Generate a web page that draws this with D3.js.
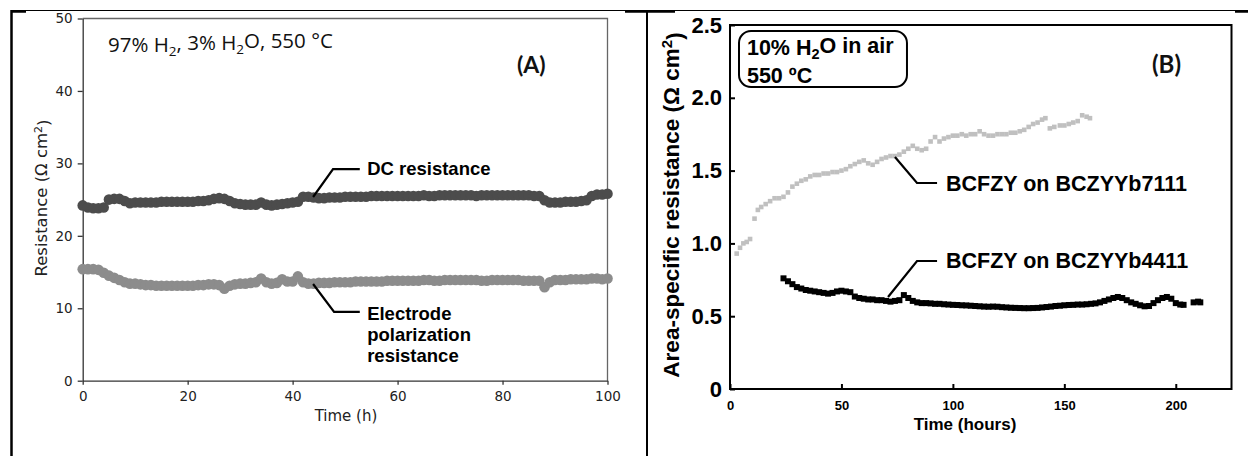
<!DOCTYPE html>
<html>
<head>
<meta charset="utf-8">
<script src="https://cdn.jsdelivr.net/npm/d3@7"></script>
<style>
  body { margin: 0; background: #fff; }
  svg { display: block; }
</style>
</head>
<body>
<svg id="chart" width="1248" height="456"></svg>
<script>
// ---- panel A data (hours, ohm cm2) ----
var hoursA = [0,1,2,3,4,5,6,7,8,9,10,11,12,13,14,15,16,17,18,19,20,21,22,23,24,25,26,27,28,29,
  30,31,32,33,34,35,36,37,38,39,40,41,42,43,44,45,46,47,48,49,50,51,52,53,54,55,56,57,58,59,
  60,61,62,63,64,65,66,67,68,69,70,71,72,73,74,75,76,77,78,79,80,81,82,83,84,85,86,87,88,89,
  90,91,92,93,94,95,96,97,98,99,100];
var dcResistance = [24.2,23.9,23.8,23.8,23.9,25.0,25.1,25.1,24.8,24.5,
  24.6,24.6,24.6,24.6,24.6,24.7,24.7,24.7,24.7,24.7,24.7,24.7,24.8,24.8,24.9,25.1,25.2,25.1,24.8,24.5,
  24.4,24.3,24.3,24.3,24.6,24.3,24.2,24.3,24.4,24.5,24.6,24.7,25.4,25.4,25.3,25.2,25.2,25.3,25.3,25.3,
  25.4,25.4,25.4,25.4,25.4,25.5,25.5,25.5,25.5,25.5,25.5,25.5,25.5,25.5,25.5,25.6,25.5,25.5,25.6,25.6,
  25.6,25.6,25.6,25.6,25.6,25.5,25.6,25.6,25.6,25.6,25.6,25.6,25.6,25.6,25.6,25.6,25.5,25.5,24.9,24.6,
  24.6,24.6,24.7,24.7,24.7,24.8,24.9,25.5,25.7,25.7,25.8];
var electrodeResistance = [15.4,15.4,15.4,15.3,14.9,14.5,14.2,13.9,13.6,13.4,
  13.4,13.3,13.2,13.2,13.1,13.1,13.1,13.1,13.1,13.1,13.1,13.1,13.2,13.2,13.3,13.3,13.2,12.7,13.1,13.3,
  13.4,13.4,13.5,13.6,14.1,13.6,13.4,13.5,14.0,13.7,13.7,14.4,13.6,13.4,13.4,13.5,13.5,13.5,13.6,13.6,
  13.6,13.6,13.7,13.7,13.7,13.7,13.7,13.7,13.8,13.8,13.8,13.8,13.8,13.8,13.8,13.9,13.9,13.8,13.8,13.9,
  13.9,13.9,13.9,13.9,13.9,13.9,13.8,13.8,13.9,13.9,13.9,13.9,13.9,13.9,13.8,13.8,13.8,13.8,12.9,13.6,
  13.9,13.9,13.9,14.0,14.0,14.0,14.0,14.1,14.1,14.0,14.1];
var ticksAx = [0, 20, 40, 60, 80, 100];
var ticksAy = [0, 10, 20, 30, 40, 50];

// ---- panel B data (hours, ohm cm2) ----
var hours7111 = [3,4.5,6,7.5,9,11,12.5,14,16,18,20,22,24,26,28,30,32,34,36,38,40,42,44,46,48,50,52,54,56,58,
  60,62,64,66,68,70,72,74,76,78,80,82,84,86,88,90,92,94,96,98,100,102,104,106,108,110,112,114,116,118,
  120,122,124,126,128,130,132,134,136,138,140,141.5,143.5,145.5,148,150,152,154,156,158,160,161.5];
var asr7111 = [0.93,0.97,1.0,1.01,1.03,1.17,1.23,1.25,1.27,1.29,1.31,1.31,1.32,1.35,1.39,1.41,1.43,1.44,1.46,1.47,
  1.47,1.48,1.48,1.49,1.49,1.50,1.51,1.53,1.545,1.56,1.57,1.55,1.54,1.56,1.58,1.59,1.60,1.60,1.61,1.63,
  1.65,1.67,1.65,1.64,1.65,1.70,1.73,1.70,1.72,1.73,1.74,1.74,1.75,1.74,1.75,1.75,1.77,1.75,1.74,1.74,
  1.75,1.75,1.75,1.76,1.76,1.77,1.78,1.80,1.82,1.83,1.85,1.86,1.79,1.80,1.81,1.81,1.82,1.83,1.84,1.88,1.87,1.86];
var hours4411 = [24,26,28,30,32,34,36,38,40,42,44,46,48,50,52,54,56,58,60,62,64,66,68,70,72,74,76,78,80,82,
  84,86,88,90,92,94,96,98,100,102,104,106,108,110,112,114,116,118,120,122,124,126,128,130,132,134,136,138,140,142,
  144,146,148,150,152,154,156,158,160,162,164,166,168,170,172,174,176,178,180,182,184,186,188,190,192,194,196,198,200,202,
  203.5,208,210,211];
var asr4411 = [0.76,0.74,0.72,0.70,0.69,0.68,0.675,0.67,0.665,0.66,0.655,0.66,0.67,0.675,0.67,0.665,0.635,0.625,0.62,0.615,
  0.615,0.61,0.61,0.605,0.60,0.605,0.61,0.645,0.625,0.605,0.595,0.59,0.59,0.588,0.585,0.585,0.582,0.58,0.578,0.577,
  0.575,0.574,0.572,0.57,0.568,0.566,0.565,0.566,0.565,0.562,0.56,0.558,0.557,0.556,0.555,0.555,0.556,0.557,0.56,0.563,
  0.566,0.57,0.572,0.575,0.577,0.578,0.58,0.58,0.582,0.585,0.588,0.595,0.605,0.615,0.625,0.632,0.625,0.61,0.595,0.585,
  0.575,0.568,0.57,0.59,0.61,0.625,0.632,0.62,0.59,0.58,0.578,0.595,0.60,0.595];
var ticksBx = [0, 50, 100, 150, 200];
var ticksBy = [0, 0.5, 1, 1.5, 2, 2.5];

var svg = d3.select("#chart");

// ---- outer table frame ----
var frame = svg.append("g").attr("stroke", "#000").attr("fill", "none");
frame.append("line").attr("x1", 12).attr("x2", 1248).attr("y1", 10.5).attr("y2", 10.5).attr("stroke-width", 1.2);
frame.append("line").attr("x1", 11.5).attr("x2", 11.5).attr("y1", 10).attr("y2", 456).attr("stroke-width", 2.5);
frame.append("line").attr("x1", 647).attr("x2", 647).attr("y1", 10).attr("y2", 456).attr("stroke-width", 2);
[[12, 26], [625, 675], [1235, 1248]].forEach(function(s) {
  frame.append("line").attr("x1", s[0]).attr("x2", s[1]).attr("y1", 11.5).attr("y2", 11.5).attr("stroke-width", 2.5);
});

// ================= panel A =================
var xA = d3.scaleLinear().domain([0, 100]).range([82.7, 607.5]);
var yA = d3.scaleLinear().domain([0, 50]).range([380.7, 18.5]);
var gA = svg.append("g");

// top / right spines
gA.append("path")
  .attr("d", "M" + xA(0) + "," + yA(50) + "H" + xA(100) + "V" + yA(0))
  .attr("fill", "none").attr("stroke", "#666").attr("stroke-width", 1.3);

var axAx = gA.append("g").attr("transform", "translate(0," + yA(0) + ")")
  .call(d3.axisBottom(xA).tickValues(ticksAx).tickSizeInner(4).tickSizeOuter(0).tickPadding(7));
var axAy = gA.append("g").attr("transform", "translate(" + xA(0) + ",0)")
  .call(d3.axisLeft(yA).tickValues(ticksAy).tickSizeInner(5).tickSizeOuter(0).tickPadding(5));
[axAx, axAy].forEach(function(a) {
  a.selectAll("path,line").attr("stroke", "#333").attr("stroke-width", 1.3);
  a.selectAll("text").attr("fill", "#222").style("font-family", "DejaVu Sans").style("font-size", "13.5px");
});

gA.selectAll("circle.dc").data(hoursA).enter().append("circle")
  .attr("class", "dc")
  .attr("cx", function(d) { return xA(d); })
  .attr("cy", function(d, i) { return yA(dcResistance[i]); })
  .attr("r", 5.3).attr("fill", "#4c4c4c");
gA.selectAll("circle.el").data(hoursA).enter().append("circle")
  .attr("class", "el")
  .attr("cx", function(d) { return xA(d); })
  .attr("cy", function(d, i) { return yA(electrodeResistance[i]); })
  .attr("r", 5.3).attr("fill", "#8c8c8c");

// axis titles
gA.append("text").attr("x", 346).attr("y", 421).attr("text-anchor", "middle")
  .style("font-family", "DejaVu Sans").style("font-size", "15px").attr("fill", "#222").text("Time (h)");
var ylabA = gA.append("text").attr("transform", "translate(47,198) rotate(-90)").attr("text-anchor", "middle")
  .style("font-family", "DejaVu Sans").style("font-size", "16.5px").attr("fill", "#222");
ylabA.append("tspan").text("Resistance (\u03A9 cm");
ylabA.append("tspan").attr("dy", "-0.45em").style("font-size", "11px").text("2");
ylabA.append("tspan").attr("dy", "0.45em").text(")");

// condition note
var noteA = gA.append("text").attr("x", 108).attr("y", 52)
  .style("font-family", "Open Sans").style("font-size", "20.5px").attr("fill", "#111");
noteA.append("tspan").text("97% H");
noteA.append("tspan").attr("dy", "0.3em").style("font-size", "13.5px").text("2");
noteA.append("tspan").attr("dy", "-0.3em").text(", 3% H");
noteA.append("tspan").attr("dy", "0.3em").style("font-size", "13.5px").text("2");
noteA.append("tspan").attr("dy", "-0.3em").text("O, 550 \u00B0C");

gA.append("text").attr("x", 517).attr("y", 73)
  .style("font-family", "Lato").style("font-weight", "bold").style("font-size", "23px").attr("fill", "#111").text("(A)");

// call-outs
function leader(g, pts) {
  g.append("path").attr("d", d3.line()(pts)).attr("fill", "none").attr("stroke", "#000").attr("stroke-width", 2.2);
}
leader(gA, [[xA(43.9), yA(25.36)], [xA(47.7), yA(29.2)], [xA(52.8), yA(29.2)]]);
leader(gA, [[xA(43.9), yA(13.35)], [xA(47.9), yA(9.5)], [xA(52.8), yA(9.5)]]);
var boldA = { "font-family": "Liberation Sans, Arial", "font-weight": "bold", "font-size": "18.5px" };
function boldText(g, x, y, s, st) {
  var t = g.append("text").attr("x", x).attr("y", y).attr("fill", "#000").text(s);
  Object.keys(st).forEach(function(k) { t.style(k, st[k]); });
  return t;
}
boldText(gA, xA(54.2), yA(28.4), "DC resistance", boldA);
boldText(gA, xA(54.2), yA(8.4), "Electrode", boldA);
boldText(gA, xA(54.2), yA(5.5), "polarization", boldA);
boldText(gA, xA(54.2), yA(2.6), "resistance", boldA);

// ================= panel B =================
var xB = d3.scaleLinear().domain([0, 225]).range([730, 1231.5]);
var yB = d3.scaleLinear().domain([0, 2.5]).range([389, 25]);
var gB = svg.append("g");

gB.append("rect").attr("x", xB(0)).attr("y", yB(2.5)).attr("width", xB(225) - xB(0)).attr("height", yB(0) - yB(2.5))
  .attr("fill", "none").attr("stroke", "#000").attr("stroke-width", 2);

var axBx = gB.append("g").attr("transform", "translate(0," + yB(0) + ")")
  .call(d3.axisBottom(xB).tickValues(ticksBx).tickSizeInner(-5).tickSizeOuter(0).tickPadding(12));
var axBy = gB.append("g").attr("transform", "translate(" + xB(0) + ",0)")
  .call(d3.axisLeft(yB).tickValues(ticksBy).tickSizeInner(-5).tickSizeOuter(0).tickPadding(8)
    .tickFormat(function(d) { return d === 0 ? "0" : d3.format(".1f")(d); }));
[axBx, axBy].forEach(function(a) {
  a.select(".domain").remove();
  a.selectAll("line").attr("stroke", "#000").attr("stroke-width", 2);
  a.selectAll("text").attr("fill", "#000").style("font-family", "Liberation Sans, Arial").style("font-weight", "bold");
});
axBx.selectAll("text").style("font-size", "13px");
axBy.selectAll("text").style("font-size", "22px");

gB.selectAll("rect.s7111").data(hours7111).enter().append("rect")
  .attr("class", "s7111")
  .attr("x", function(d) { return xB(d) - 2.3; })
  .attr("y", function(d, i) { return yB(asr7111[i]) - 2.3; })
  .attr("width", 4.6).attr("height", 4.6).attr("fill", "#c0c0c0");
gB.selectAll("rect.s4411").data(hours4411).enter().append("rect")
  .attr("class", "s4411")
  .attr("x", function(d) { return xB(d) - 3; })
  .attr("y", function(d, i) { return yB(asr4411[i]) - 3; })
  .attr("width", 6).attr("height", 6).attr("fill", "#000");

var boldB = { "font-family": "Liberation Sans, Arial", "font-weight": "bold", "font-size": "21.5px" };
boldText(gB, 965, 430, "Time (hours)", { "font-family": "Liberation Sans, Arial", "font-weight": "bold", "font-size": "17px" })
  .attr("text-anchor", "middle");
var ylabB = gB.append("text").attr("transform", "translate(679,205) rotate(-90)").attr("text-anchor", "middle")
  .style("font-family", "Liberation Sans, Arial").style("font-weight", "bold").style("font-size", "22.5px").attr("fill", "#000");
ylabB.append("tspan").text("Area-specific resistance (\u03A9 cm");
ylabB.append("tspan").attr("dy", "-0.45em").style("font-size", "15px").text("2");
ylabB.append("tspan").attr("dy", "0.45em").text(")");

// condition box
gB.append("rect").attr("x", xB(4.04)).attr("y", yB(2.459)).attr("width", xB(79.4) - xB(4.04)).attr("height", yB(2.074) - yB(2.459))
  .attr("rx", 12).attr("fill", "none").attr("stroke", "#000").attr("stroke-width", 2);
var box1 = boldText(gB, xB(7.6), yB(2.294), "10% H", boldB);
box1.append("tspan").attr("dy", "0.3em").style("font-size", "14.5px").text("2");
box1.append("tspan").attr("dy", "-0.3em").text("O in air");
boldText(gB, xB(7.6), yB(2.102), "550 \u00BAC", boldB);

gB.append("text").attr("x", 1152).attr("y", 73)
  .style("font-family", "Lato").style("font-weight", "bold").style("font-size", "24px").attr("fill", "#111").text("(B)");

leader(gB, [[xB(74.0), yB(1.593)], [xB(83.9), yB(1.415)], [xB(92.9), yB(1.415)]]);
leader(gB, [[xB(70.9), yB(0.632)], [xB(83.9), yB(0.879)], [xB(92.9), yB(0.879)]]);
boldText(gB, xB(96.9), yB(1.36), "BCFZY on BCZYYb7111", boldB);
boldText(gB, xB(96.9), yB(0.831), "BCFZY on BCZYYb4411", boldB);
</script>
</body>
</html>
